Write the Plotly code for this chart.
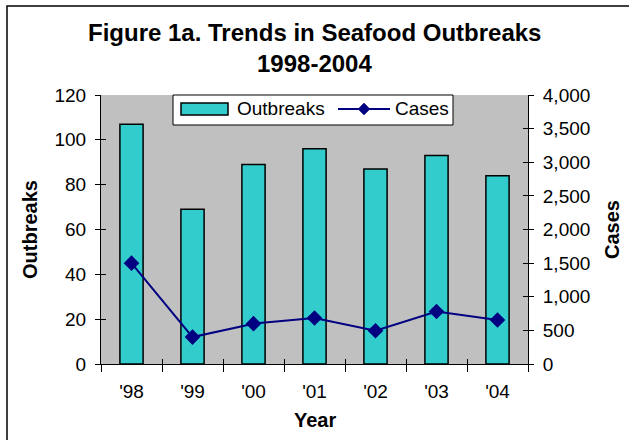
import plotly.graph_objects as go

# Seafood outbreak data, 1998-2004
years = ["'98", "'99", "'00", "'01", "'02", "'03", "'04"]
outbreaks = [107, 69, 89, 96, 87, 93, 84]
cases = [1500, 400, 600, 685, 495, 780, 655]

left_ticks = [0, 20, 40, 60, 80, 100, 120]
right_ticks = [0, 500, 1000, 1500, 2000, 2500, 3000, 3500, 4000]

FONT = "Liberation Sans, Arial, sans-serif"
BAR_COLOR = "#33CCCC"
LINE_COLOR = "#000080"
W, H = 629, 440
L, R, T, B = 101, 101, 95, 76

fig = go.Figure()
fig.add_trace(go.Bar(
    x=years, y=outbreaks, name="Outbreaks",
    marker=dict(color=BAR_COLOR, line=dict(color="black", width=1.5)),
    width=0.38, showlegend=False,
))
fig.add_trace(go.Scatter(
    x=years, y=cases, name="Cases", yaxis="y2", mode="lines+markers",
    line=dict(color=LINE_COLOR, width=2),
    marker=dict(symbol="diamond", size=12, color=LINE_COLOR),
    showlegend=False,
))

tickfont = dict(family=FONT, size=19, color="black")
fig.update_layout(
    width=W, height=H,
    margin=dict(l=L, r=R, t=T, b=B),
    paper_bgcolor="white", plot_bgcolor="#C0C0C0",
    font=dict(family=FONT, color="black"),
    showlegend=False,
    xaxis=dict(
        type="category", categoryorder="array", categoryarray=years,
        range=[-0.5, 6.5], tickson="boundaries",
        ticks="outside", ticklen=7, tickcolor="black",
        showline=True, linecolor="black", linewidth=1,
        showgrid=False, tickfont=tickfont, ticklabelstandoff=10,
        zeroline=False,
    ),
    xaxis2=dict(
        overlaying="x", range=[-0.5, 6.5], showticklabels=False,
        tickvals=[-0.5, 0.5, 1.5, 2.5, 3.5, 4.5, 5.5, 6.5],
        ticks="inside", ticklen=5, tickcolor="black",
        showgrid=False, zeroline=False, showline=False,
    ),
    yaxis=dict(
        range=[0, 120], tickvals=left_ticks,
        ticks="outside", ticklen=5, tickcolor="black",
        showline=True, linecolor="black", linewidth=1,
        showgrid=False, zeroline=False, tickfont=tickfont,
        ticklabelstandoff=5,
    ),
    yaxis2=dict(
        overlaying="y", side="right", range=[0, 4000], tickvals=right_ticks,
        tickformat=",", ticks="outside", ticklen=5, tickcolor="black",
        showline=True, linecolor="black", linewidth=1,
        showgrid=False, zeroline=False, tickfont=tickfont,
        ticklabelstandoff=5,
    ),
    yaxis3=dict(
        overlaying="y", side="left", range=[0, 120], tickvals=left_ticks,
        ticks="inside", ticklen=5, tickcolor="black",
        showticklabels=False, showgrid=False, zeroline=False, showline=False,
    ),
    yaxis4=dict(
        overlaying="y", side="right", range=[0, 4000], tickvals=right_ticks,
        ticks="inside", ticklen=5, tickcolor="black",
        showticklabels=False, showgrid=False, zeroline=False, showline=False,
    ),
)

# invisible traces to activate the overlay tick axes
fig.add_trace(go.Scatter(x=[0], y=[0], xaxis="x2", yaxis="y3", mode="markers",
                         marker=dict(opacity=0), showlegend=False, hoverinfo="skip"))
fig.add_trace(go.Scatter(x=[0], y=[0], xaxis="x2", yaxis="y4", mode="markers",
                         marker=dict(opacity=0), showlegend=False, hoverinfo="skip"))

pw = W - L - R
ph = H - T - B


def px_x(p):
    return (p - L) / pw


def px_y(p):
    return (H - B - p) / ph


def label(text, x, y, size, angle=0, xanchor="center"):
    fig.add_annotation(
        text=text, x=px_x(x), y=px_y(y), xref="paper", yref="paper",
        xanchor=xanchor, yanchor="middle", showarrow=False, textangle=angle,
        font=dict(family=FONT, size=size, color="black"),
    )


# titles
label("<b>Figure 1a. Trends in Seafood Outbreaks</b>", 314, 33, 24)
label("<b>1998-2004</b>", 314, 63, 24)
label("<b>Year</b>", 315, 420, 20)
label("<b>Outbreaks</b>", 30, 230, 20, angle=-90)
label("<b>Cases</b>", 612, 230, 20, angle=-90)


def rect(x0, x1, y0, y1, **kw):
    fig.add_shape(type="rect", xref="paper", yref="paper",
                  x0=px_x(x0), x1=px_x(x1), y0=px_y(y1), y1=px_y(y0), **kw)


# legend box
rect(173, 453, 95, 125, line=dict(color="black", width=1), fillcolor="white")
rect(181, 228, 103, 115, line=dict(color="black", width=1.5), fillcolor=BAR_COLOR)
label("Outbreaks", 235, 109, 19, xanchor="left")
fig.add_shape(type="line", xref="paper", yref="paper",
              x0=px_x(338), x1=px_x(390), y0=px_y(109), y1=px_y(109),
              line=dict(color=LINE_COLOR, width=2))
cx, cy, d = 364, 109, 6
fig.add_shape(type="path", xref="paper", yref="paper",
              path=(f"M {px_x(cx - d)},{px_y(cy)} L {px_x(cx)},{px_y(cy - d)} "
                    f"L {px_x(cx + d)},{px_y(cy)} L {px_x(cx)},{px_y(cy + d)} Z"),
              fillcolor=LINE_COLOR, line=dict(color=LINE_COLOR, width=0.5))
label("Cases", 393, 109, 19, xanchor="left")

# outer chart frame
rect(7, 640, 6, 450, line=dict(color="black", width=1.5),
     fillcolor="rgba(0,0,0,0)", layer="below")

fig.write_html("out.html")
